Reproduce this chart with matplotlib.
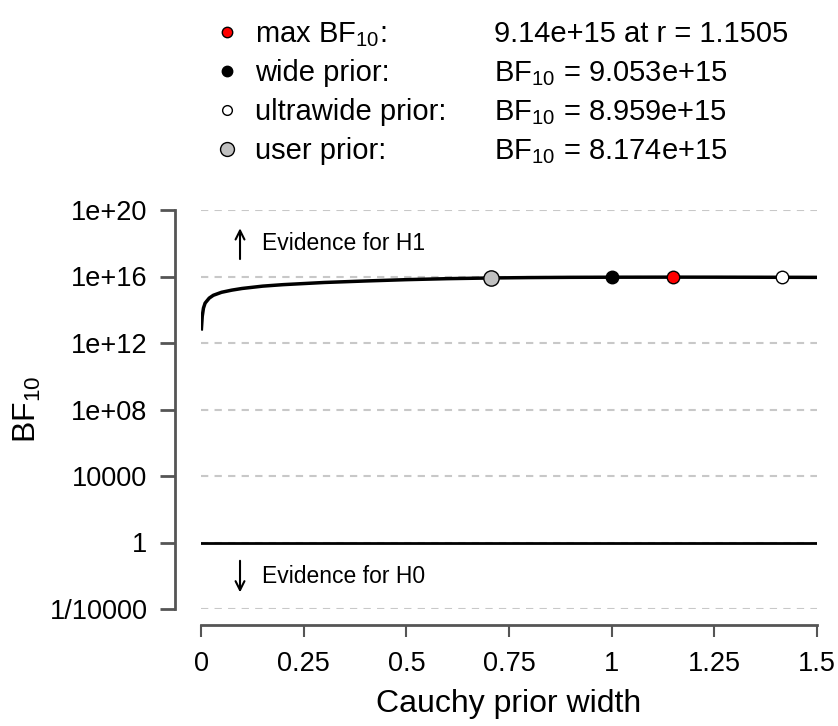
"""Bayes factor robustness check plot."""
import numpy as np
import matplotlib
matplotlib.use("Agg")
import matplotlib.pyplot as plt
from matplotlib.lines import Line2D

plt.rcParams["font.family"] = ["Liberation Sans", "DejaVu Sans"]
plt.rcParams["mathtext.fontset"] = "custom"
plt.rcParams["mathtext.rm"] = "Liberation Sans"
plt.rcParams["mathtext.it"] = "Liberation Sans:italic"

# curve: prior width r and log10(BF10)
r_values = [0.001, 0.003, 0.006, 0.01, 0.02, 0.03, 0.05, 0.075, 0.1, 0.15,
            0.2, 0.3, 0.4, 0.5, 0.6, 0.7071, 0.8, 0.9, 1.0, 1.1505, 1.25,
            1.4142, 1.5]
log_bf = [12.85, 13.6, 14.1, 14.4, 14.7, 14.87, 15.05, 15.18, 15.28, 15.42,
          15.51, 15.64, 15.73, 15.81, 15.87, 15.912, 15.935, 15.95, 15.957,
          15.961, 15.959, 15.952, 15.948]

# highlighted priors (drawn in this order)
prior_r = [0.7071, 1.0, 1.1505, 1.4142]
prior_bf = [8.174e15, 9.053e15, 9.14e15, 8.959e15]
prior_colors = ["#c0c0c0", "black", "red", "white"]
prior_sizes = [11, 9, 9, 9]

legend_colors = ["red", "black", "white", "#c0c0c0"]
legend_sizes = [7.5, 7.5, 7, 10]
legend_labels = ["max BF$_{\\mathrm{10}}$:", "wide prior:", "ultrawide prior:", "user prior:"]
legend_values = ["9.14e+15 at r = 1.1505", "BF$_{\\mathrm{10}}$ = 9.053e+15",
                 "BF$_{\\mathrm{10}}$ = 8.959e+15", "BF$_{\\mathrm{10}}$ = 8.174e+15"]

y_ticks = [1e-4, 1, 1e4, 1e8, 1e12, 1e16, 1e20]
y_tick_labels = ["1/10000", "1", "10000", "1e+08", "1e+12", "1e+16", "1e+20"]
x_ticks = [0, 0.25, 0.5, 0.75, 1, 1.25, 1.5]
x_tick_labels = ["0", "0.25", "0.5", "0.75", "1", "1.25", "1.5"]

W, H = 838, 726
fig = plt.figure(figsize=(W / 100, H / 100), dpi=100)
ax = fig.add_axes([201 / W, 1 - 609 / H, (817 - 201) / W, (609 - 210) / H])

ax.set_yscale("log")
ax.set_xlim(0, 1.5)
ax.set_ylim(1e-4, 1e20)

# grid lines
for t in y_ticks:
    ax.axhline(t, color="#c8c8c8", lw=1.5, ls=(0, (3.5, 3)), zorder=1)
ax.axhline(1, color="black", lw=2, zorder=2)

ax.plot(r_values, 10 ** np.array(log_bf), color="black", lw=2.5, zorder=3)

for r, bf, c, s in zip(prior_r, prior_bf, prior_colors, prior_sizes):
    ax.plot(r, bf, "o", ms=s, mfc=c, mec="black", mew=1, zorder=4, clip_on=False)

# evidence arrows
ax.annotate("", xy=(0.095, 10 ** 18.9), xytext=(0.095, 10 ** 17.05),
            arrowprops=dict(arrowstyle="->", lw=1.5, color="black",
                            shrinkA=0, shrinkB=0, mutation_scale=16))
ax.text(0.148, 1e18, "Evidence for H1", fontsize=16.5, ha="left", va="center")
ax.annotate("", xy=(0.095, 10 ** -3.0), xytext=(0.095, 10 ** -1.1),
            arrowprops=dict(arrowstyle="->", lw=1.5, color="black",
                            shrinkA=0, shrinkB=0, mutation_scale=16))
ax.text(0.148, 10 ** -2.05, "Evidence for H0", fontsize=16.5, ha="left", va="center")

# R style axes
for side in ["top", "right"]:
    ax.spines[side].set_visible(False)
ax.spines["left"].set_position(("outward", 18.7))
ax.spines["bottom"].set_position(("outward", 11.5))
ax.spines["left"].set_bounds(1e-4, 1e20)
ax.spines["bottom"].set_bounds(0, 1.5)
for side in ["left", "bottom"]:
    ax.spines[side].set_color("#555555")
    ax.spines[side].set_linewidth(2)

ax.set_yticks(y_ticks)
ax.set_yticklabels(y_tick_labels)
ax.minorticks_off()
ax.set_xticks(x_ticks)
ax.set_xticklabels(x_tick_labels)
ax.tick_params(axis="y", length=10.8, width=2, color="#555555", labelsize=19.5, pad=9)
ax.tick_params(axis="x", length=8.6, width=1.5, color="#555555", labelsize=19.5, pad=10)

ax.set_xlabel("Cauchy prior width", fontsize=23, labelpad=9)
ax.set_ylabel("BF$_{\\mathrm{10}}$", fontsize=23, labelpad=5)

# legend at the top
row_y = [42, 81, 120, 159]
for y, c, s, lab, val in zip(row_y, legend_colors, legend_sizes, legend_labels, legend_values):
    fig.add_artist(Line2D([227 / W], [1 - (y - 10) / H], marker="o", ms=s, mfc=c,
                          mec="black", mew=1, transform=fig.transFigure))
    fig.text(255 / W, 1 - y / H, lab, fontsize=21, ha="left", va="baseline")
    fig.text(494 / W, 1 - y / H, val, fontsize=21, ha="left", va="baseline")

fig.savefig("out.png", dpi=100)
